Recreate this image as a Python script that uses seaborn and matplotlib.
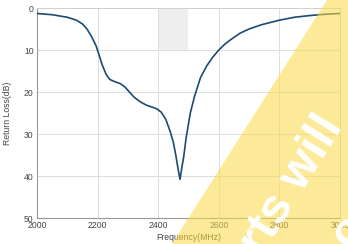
import numpy as np
import pandas as pd
import matplotlib
matplotlib.use("Agg")
import matplotlib.pyplot as plt
import seaborn as sns
from matplotlib.patches import Polygon

# Data
freq_mhz = [2000, 2050, 2100, 2130, 2150, 2165, 2180, 2195, 2205, 2215, 2228, 2240,
            2255, 2275, 2290, 2305, 2320, 2340, 2360, 2380, 2395, 2410, 2425, 2440,
            2450, 2458, 2466, 2472, 2478, 2484, 2492, 2506, 2520, 2540, 2560, 2580,
            2600, 2620, 2640, 2670, 2700, 2740, 2800, 2850, 2900, 2950, 3000]
return_loss_db = [1.3, 1.6, 2.2, 2.9, 3.8, 5.0, 6.8, 9.0, 11.2, 13.5, 15.8, 17.0,
                  17.5, 18.0, 18.8, 20.0, 21.2, 22.3, 23.1, 23.6, 24.0, 24.8, 26.5, 29.5,
                  32.0, 35.0, 38.5, 40.8, 38.0, 35.5, 31.0, 25.0, 21.0, 16.5, 13.8, 11.7,
                  10.0, 8.6, 7.5, 6.0, 5.0, 4.0, 2.9, 2.2, 1.8, 1.5, 1.3]
x_ticks = [2000, 2200, 2400, 2600, 2800, 3000]
y_ticks = [0, 10, 20, 30, 40, 50]
band_freq = [2400, 2500]
band_db = [0, 10]

df = pd.DataFrame({"Frequency": freq_mhz, "RL": return_loss_db})

sns.set_theme(style="whitegrid")
plt.rcParams['font.family'] = ['Liberation Sans', 'DejaVu Sans']

W, H = 348, 244
fig = plt.figure(figsize=(W / 100, H / 100), dpi=100)
ax = fig.add_axes([37 / W, 26 / H, (340 - 37) / W, (218 - 8) / H])

ax.axvspan(band_freq[0], band_freq[1], ymin=1 - band_db[1] / 50, ymax=1 - band_db[0] / 50,
           color="#eeeeee", lw=0, zorder=0)

sns.lineplot(data=df, x="Frequency", y="RL", ax=ax, color="#1d4a70", linewidth=1.2, zorder=3)

ax.set_xlim(2000, 3000)
ax.set_ylim(50, 0)
ax.set_xticks(x_ticks)
ax.set_yticks(y_ticks)
ax.set_xlabel("Frequency(MHz)", fontsize=6.2, color="#444444", labelpad=2)
ax.set_ylabel("Return Loss(dB)", fontsize=6.2, color="#444444")
ax.yaxis.set_label_coords(-0.083, 0.5)
ax.tick_params(axis="both", labelsize=6.2, colors="#444444", length=0, pad=2.5)
ax.set_facecolor("white")
ax.grid(True, color="#dddddd", linewidth=0.7)
ax.set_axisbelow(True)
for s in ["top", "right"]:
    ax.spines[s].set_color("#d0d0d0")
    ax.spines[s].set_linewidth(0.7)
for s in ["left", "bottom"]:
    ax.spines[s].set_color("#999999")
    ax.spines[s].set_linewidth(0.8)

# Watermark overlay
poly = Polygon([(172 / W, 0), (327 / W, 1), (1, 1), (1, 0)], closed=True,
               transform=fig.transFigure, facecolor=(0.98, 0.86, 0.28), alpha=0.56,
               edgecolor="none", zorder=10)
fig.add_artist(poly)
fig.text(262 / W, 1 - 257 / H, "rts will", rotation=58, rotation_mode="anchor",
         ha="left", va="baseline", color="white", fontsize=35, fontweight="bold",
         transform=fig.transFigure, zorder=11)
fig.text(351 / W, 1 - 250 / H, "o", rotation=58, rotation_mode="anchor",
         ha="left", va="baseline", color="white", fontsize=34, fontweight="bold",
         transform=fig.transFigure, zorder=11)

fig.savefig("out.png", dpi=100)
